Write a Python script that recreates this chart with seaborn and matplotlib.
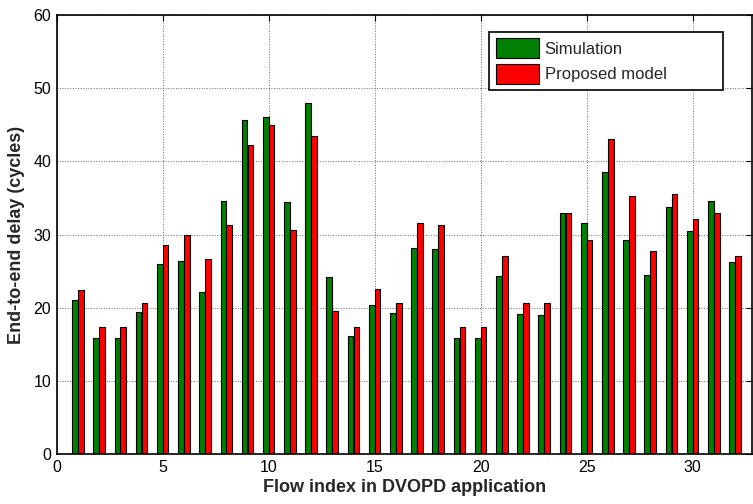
import matplotlib
matplotlib.use("Agg")
import matplotlib.pyplot as plt
import numpy as np
import pandas as pd
import seaborn as sns

# End-to-end delay per flow of the DVOPD application
flows = list(range(1, 33))
simulation = [21.0, 15.9, 15.9, 19.4, 26.0, 26.4, 22.1, 34.6, 45.6, 46.0,
              34.4, 48.0, 24.2, 16.1, 20.3, 19.3, 28.1, 28.0, 15.9, 15.8,
              24.3, 19.2, 19.0, 33.0, 31.6, 38.6, 29.2, 24.4, 33.7, 30.5,
              34.6, 26.3]
proposed = [22.4, 17.3, 17.3, 20.7, 28.6, 29.9, 26.6, 31.3, 42.3, 44.9,
            30.6, 43.5, 19.6, 17.3, 22.6, 20.7, 31.6, 31.3, 17.3, 17.3,
            27.0, 20.7, 20.7, 33.0, 29.3, 43.0, 35.3, 27.8, 35.5, 32.1,
            33.0, 27.1]
series_names = ["Simulation", "Proposed model"]
series_colors = ["#008000", "#ff0000"]
x_ticks = [0, 5, 10, 15, 20, 25, 30]
y_ticks = [0, 10, 20, 30, 40, 50, 60]

df = pd.DataFrame({
    "flow": flows + flows,
    "delay": simulation + proposed,
    "series": [series_names[0]] * len(flows) + [series_names[1]] * len(flows),
})

sns.set_style("white")
plt.rcParams["font.family"] = ["Liberation Sans", "DejaVu Sans"]
plt.rcParams["xtick.direction"] = "in"
plt.rcParams["ytick.direction"] = "in"

fig = plt.figure(figsize=(7.53, 5.04), dpi=100)
ax = fig.add_axes([0.0753, 0.0992, 0.9234, 0.871])

sns.barplot(data=df, x="flow", y="delay", hue="series", native_scale=True,
            palette=series_colors, saturation=1, width=0.56, gap=0.05,
            edgecolor="black", linewidth=0.8, errorbar=None, ax=ax)

ax.set_xlim(0, 32.8)
ax.set_ylim(0, 60)
ax.set_xticks(x_ticks)
ax.set_yticks(y_ticks)
ax.tick_params(axis="both", which="both", labelsize=11.5, length=4, width=0.8,
               top=True, right=True, colors="black", pad=4)
for side in ax.spines.values():
    side.set_visible(True)
    side.set_color("black")
    side.set_linewidth(1.2)

ax.grid(True, linestyle=":", color="0.4", linewidth=0.7)
ax.set_axisbelow(True)

ax.set_xlabel("Flow index in DVOPD application", fontsize=13,
              fontweight="bold", labelpad=3)
ax.set_ylabel("End-to-end delay (cycles)", fontsize=13,
              fontweight="bold", labelpad=6)

handles, labels = ax.get_legend_handles_labels()
leg = ax.legend(handles, labels, loc="upper left",
                bbox_to_anchor=(0.6218, 0.5, 0.336, 0.462), mode="expand",
                fontsize=12, handlelength=2.58, handleheight=1.4,
                labelspacing=0.4, borderpad=0.4, handletextpad=0.36,
                borderaxespad=0, fancybox=False, framealpha=1,
                edgecolor="black")
leg.get_frame().set_linewidth(1.2)
for h in leg.legend_handles:
    h.set_edgecolor("black")
    h.set_linewidth(0.8)

fig.savefig("out.png", dpi=100)
